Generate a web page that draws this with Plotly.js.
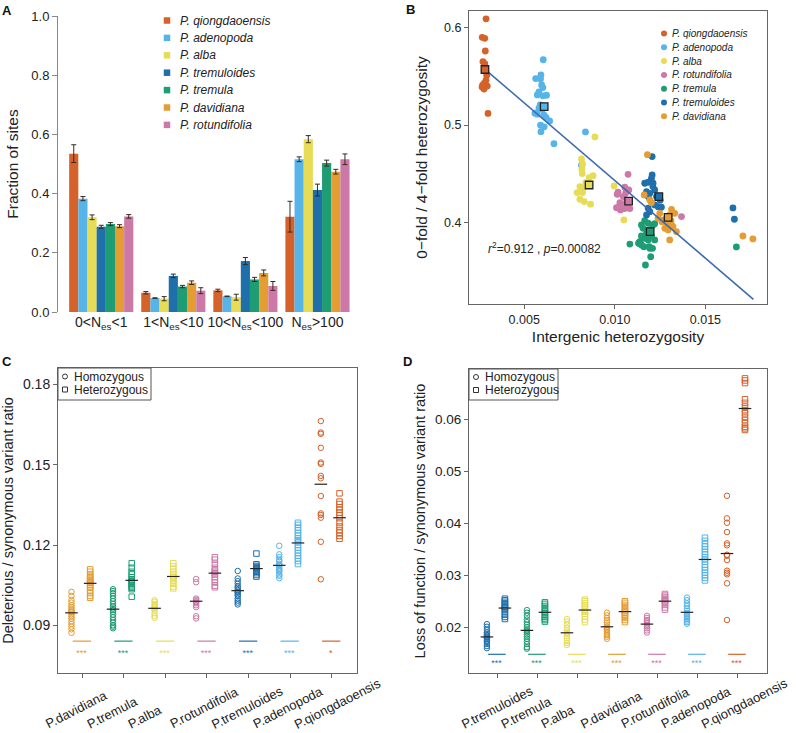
<!DOCTYPE html>
<html><head><meta charset="utf-8">
<script src="https://cdn.plot.ly/plotly-3.0.1.min.js"></script>
<style>html,body{margin:0;padding:0;background:#fff}#chart{width:796px;height:733px}</style>
</head><body><div id="chart"></div>
<script>
// ================= DATA =================
// ---- Panel A ----
const nesCategories = ['0&lt;N<sub>es</sub>&lt;1','1&lt;N<sub>es</sub>&lt;10','10&lt;N<sub>es</sub>&lt;100','N<sub>es</sub>&gt;100'];
const speciesA = ['P. qiongdaoensis','P. adenopoda','P. alba','P. tremuloides','P. tremula','P. davidiana','P. rotundifolia'];
const fracQiongdaoensis = [0.535, 0.065, 0.073, 0.322];
const fracAdenopoda     = [0.383, 0.047, 0.053, 0.516];
const fracAlba          = [0.320, 0.045, 0.050, 0.584];
const fracTremuloides   = [0.288, 0.122, 0.172, 0.412];
const fracTremula       = [0.297, 0.086, 0.110, 0.503];
const fracDavidiana     = [0.290, 0.099, 0.132, 0.474];
const fracRotundifolia  = [0.323, 0.072, 0.088, 0.516];
const errQiongdaoensis = [0.030, 0.004, 0.004, 0.052];
const errAdenopoda     = [0.007, 0.001, 0.001, 0.008];
const errAlba          = [0.008, 0.007, 0.010, 0.012];
const errTremuloides   = [0.005, 0.006, 0.012, 0.020];
const errTremula       = [0.005, 0.004, 0.007, 0.010];
const errDavidiana     = [0.005, 0.006, 0.010, 0.008];
const errRotundifolia  = [0.006, 0.010, 0.015, 0.018];

// ---- Panel B ----
const speciesB = ['P. qiongdaoensis','P. adenopoda','P. alba','P. rotundifolia','P. tremula','P. tremuloides','P. davidiana'];
const hetIntQiongdaoensis = [0.00289,0.00268,0.00282,0.00285,0.00272,0.00282,0.00293,0.00289,0.00267,0.00296,0.00278,0.00300,0.00280,0.00270];
const hetRatioQiongdaoensis = [0.609,0.590,0.589,0.576,0.565,0.563,0.551,0.546,0.539,0.540,0.537,0.512,0.543,0.541];
const hetIntAdenopoda = [0.00605,0.00592,0.00563,0.00590,0.00596,0.00603,0.00581,0.00572,0.00603,0.00623,0.00588,0.00581,0.00559,0.00572,0.00609,0.00640,0.00590,0.00610,0.00592,0.00664,0.00838,0.00816,0.00600,0.00620];
const hetRatioAdenopoda = [0.567,0.5515,0.5477,0.5474,0.5412,0.5385,0.534,0.531,0.530,0.5306,0.5207,0.5173,0.5122,0.5112,0.5102,0.5043,0.4999,0.4982,0.4933,0.481,0.493,0.4589,0.516,0.508];
const hetIntAlba = [0.00890,0.00816,0.00822,0.00818,0.00880,0.00858,0.00820,0.00807,0.00827,0.00792,0.00822,0.00807,0.00831,0.00866,0.00996,0.01050,0.00840];
const hetRatioAlba = [0.4879,0.4653,0.4599,0.4548,0.4482,0.4462,0.4503,0.437,0.436,0.4308,0.4308,0.424,0.4216,0.4189,0.4376,0.4028,0.441];
const hetIntRotundifolia = [0.01073,0.01055,0.01077,0.01018,0.01013,0.01046,0.01065,0.01028,0.01042,0.01009,0.01031,0.01055,0.01083,0.01024,0.01070,0.01368,0.01272,0.01060];
const hetRatioRotundifolia = [0.4496,0.4363,0.4335,0.4312,0.4291,0.4267,0.4233,0.4205,0.4185,0.4154,0.413,0.4144,0.4144,0.4164,0.4182,0.4062,0.4028,0.4305];
const hetIntTremula = [0.01165,0.01184,0.01147,0.01211,0.01156,0.01193,0.01175,0.01147,0.01202,0.01165,0.01184,0.01138,0.01134,0.01147,0.01193,0.01208,0.01220,0.01220,0.01198,0.01169,0.01671,0.01083,0.01131,0.01160,0.01190];
const hetRatioTremula = [0.4021,0.3994,0.3976,0.3976,0.3942,0.3925,0.3891,0.3863,0.3863,0.384,0.3823,0.3805,0.3789,0.3771,0.3737,0.3737,0.3823,0.399,0.3651,0.3566,0.3751,0.378,0.3789,0.3753,0.3753];
const hetIntTremuloides = [0.01206,0.01206,0.01202,0.01165,0.01184,0.01211,0.01175,0.01193,0.01220,0.01230,0.01184,0.01220,0.01239,0.01257,0.01184,0.01193,0.01175,0.01652,0.01660,0.01210,0.01250];
const hetRatioTremuloides = [0.4677,0.4489,0.4455,0.4404,0.4414,0.4404,0.4318,0.4301,0.4335,0.4267,0.4267,0.4182,0.4164,0.4158,0.4148,0.4113,0.4079,0.4151,0.4035,0.437,0.423];
const hetIntDavidiana = [0.01180,0.01162,0.01193,0.01202,0.01313,0.01331,0.01303,0.01248,0.01239,0.01285,0.01313,0.01321,0.01276,0.01294,0.01340,0.01303,0.01707,0.01762,0.01260,0.01310];
const hetRatioDavidiana = [0.4697,0.4284,0.4233,0.4205,0.4137,0.4096,0.4079,0.4096,0.4045,0.3994,0.3976,0.3959,0.3942,0.3925,0.3908,0.3823,0.3863,0.3833,0.401,0.402];
const meanIntB = [0.00283,0.00610,0.00858,0.01076,0.01195,0.01243,0.01294];
const meanRatioB = [0.557,0.519,0.4386,0.422,0.3908,0.4267,0.4055];
const fitIntB = [0.00287,0.01765];
const fitRatioB = [0.5566,0.3214];
const statsTextB = '<i>r</i><sup>2</sup>=0.912 , <i>p</i>=0.00082';

// ---- Panel C ----
const speciesC = ['P.davidiana','P.tremula','P.alba','P.rotundifolia','P.tremuloides','P.adenopoda','P.qiongdaoensis'];
const delHomDavidiana = [0.1025,0.1010,0.0995,0.0985,0.0975,0.0968,0.096,0.0955,0.095,0.0948,0.094,0.0932,0.0925,0.0915,0.0905,0.0895,0.0885,0.0872];
const delHetDavidiana = [0.1109,0.110,0.109,0.1082,0.1075,0.107,0.1065,0.106,0.1058,0.1052,0.1045,0.104,0.103,0.102,0.101,0.1003];
const delHomTremula = [0.1035,0.1028,0.102,0.101,0.100,0.099,0.098,0.097,0.0963,0.0957,0.095,0.094,0.093,0.092,0.091,0.090,0.0895,0.0889];
const delHetTremula = [0.1132,0.1115,0.110,0.109,0.108,0.1072,0.1065,0.1063,0.1058,0.105,0.1045,0.104,0.1035,0.1007];
const delHomAlba = [0.0994,0.0988,0.098,0.0975,0.097,0.0967,0.0962,0.0955,0.0945,0.0935,0.0928];
const delHetAlba = [0.1132,0.112,0.111,0.110,0.1092,0.1085,0.108,0.1078,0.1072,0.1065,0.1055,0.1045,0.1038];
const delHomRotundifolia = [0.1073,0.1061,0.1000,0.0995,0.0990,0.0986,0.0982,0.0975,0.0968,0.0934,0.0926];
const delHetRotundifolia = [0.1154,0.1145,0.113,0.1115,0.1105,0.110,0.1095,0.109,0.108,0.107,0.106,0.1048,0.1042];
const delHomTremuloides = [0.1103,0.1075,0.1065,0.1055,0.1045,0.104,0.1032,0.1025,0.1022,0.1015,0.101,0.100,0.0992,0.0985,0.0978];
const delHetTremuloides = [0.1168,0.1128,0.1122,0.1118,0.1115,0.1113,0.1110,0.1105,0.1100,0.1095,0.1088,0.1082];
const delHomAdenopoda = [0.1197,0.1165,0.1155,0.1145,0.114,0.113,0.1125,0.1123,0.1115,0.111,0.1105,0.110,0.109,0.1085,0.1076];
const delHetAdenopoda = [0.1283,0.1275,0.1265,0.1255,0.1245,0.1235,0.1225,0.1218,0.121,0.120,0.119,0.118,0.117,0.116,0.115,0.114,0.1129];
const delHomQiongdaoensis = [0.1663,0.1620,0.1615,0.1563,0.1508,0.1503,0.1458,0.1449,0.1383,0.1318,0.1312,0.1302,0.1212,0.1072];
const delHetQiongdaoensis = [0.1393,0.1362,0.1353,0.1341,0.1331,0.1321,0.1312,0.1300,0.1284,0.1269,0.1256,0.1246,0.1234,0.1223];
const sigC = ['***','***','***','***','***','***','*'];

// ---- Panel D ----
const speciesD = ['P.tremuloides','P.tremula','P.alba','P.davidiana','P.rotundifolia','P.adenopoda','P.qiongdaoensis'];
const lofHomTremuloides = [0.0206,0.0201,0.0195,0.019,0.0187,0.0184,0.0182,0.018,0.0178,0.0175,0.0172,0.0168,0.0164,0.016];
const lofHetTremuloides = [0.0255,0.0252,0.0249,0.0246,0.0243,0.024,0.0238,0.0236,0.0233,0.0229,0.0224,0.022,0.0216];
const lofHomTremula = [0.0233,0.0228,0.0222,0.0215,0.021,0.0205,0.020,0.0196,0.0193,0.019,0.0186,0.0182,0.0178,0.0173,0.0168,0.0162,0.0159];
const lofHetTremula = [0.0248,0.0245,0.0241,0.0237,0.0233,0.023,0.0227,0.0224,0.022,0.0217,0.0214,0.0211];
const lofHomAlba = [0.0216,0.0211,0.0205,0.0199,0.0194,0.019,0.0187,0.0183,0.0179,0.0174,0.017,0.0166];
const lofHetAlba = [0.0253,0.025,0.0246,0.0242,0.0238,0.0234,0.023,0.0226,0.0221,0.0215,0.021];
const lofHomDavidiana = [0.0228,0.0223,0.0218,0.0213,0.0209,0.0205,0.0201,0.0198,0.0195,0.0192,0.0188,0.0185,0.0182,0.0178];
const lofHetDavidiana = [0.025,0.0247,0.0243,0.0239,0.0235,0.0231,0.0228,0.0225,0.0222,0.0218,0.0214,0.021];
const lofHomRotundifolia = [0.0222,0.0218,0.0214,0.0211,0.0208,0.0205,0.0202,0.0198,0.0194,0.019];
const lofHetRotundifolia = [0.0264,0.0261,0.0258,0.0255,0.0252,0.025,0.0247,0.0243,0.0238,0.0234];
const lofHomAdenopoda = [0.0257,0.0252,0.0246,0.0241,0.0236,0.0232,0.0228,0.0225,0.0222,0.0219,0.0216,0.0213,0.021,0.0207];
const lofHetAdenopoda = [0.0372,0.0366,0.036,0.0355,0.035,0.0345,0.034,0.0335,0.0331,0.0326,0.032,0.0315,0.031,0.0305,0.030,0.0295,0.029];
const lofHomQiongdaoensis = [0.04526,0.04092,0.04008,0.03829,0.03612,0.03574,0.03394,0.03375,0.03292,0.03087,0.03048,0.03017,0.02845,0.0214];
const lofHetQiongdaoensis = [0.0678,0.0674,0.0669,0.0638,0.0631,0.0624,0.0617,0.0611,0.0604,0.0598,0.0592,0.0585,0.0582,0.0579];
const sigD = ['***','***','***','***','***','***','***'];
const zygosityLabels = ['Homozygous','Heterozygous'];

// ================= STYLE =================
const FONT = 'Liberation Sans, Arial, sans-serif';
const COL = {
  qiongdaoensis:'#D4622A', adenopoda:'#56B4E9', alba:'#E6DC55', tremuloides:'#1F6FAB',
  tremula:'#1E9C73', davidiana:'#E39D33', rotundifolia:'#CC79A7'
};
const W = 796, H = 733;
const px = v => v / W, py = v => 1 - v / H;

const traces = [];
const annotations = [];

const frameAxis = {showline:true, mirror:true, linecolor:'#666', linewidth:1, ticks:'outside', ticklen:4,
  tickcolor:'#666', showgrid:false, zeroline:false, tickfont:{size:13, color:'#222', family:FONT}};
const xaxis3 = Object.assign({}, frameAxis, {domain:[px(58), px(357)], anchor:'y3', range:[0.416,7.61],
    tickvals:[1,2,3,4,5,6,7], showticklabels:false});
const xaxis4 = Object.assign({}, frameAxis, {domain:[px(469), px(767)], anchor:'y4', range:[0.2925,7.74],
    tickvals:[1,2,3,4,5,6,7], showticklabels:false});
const toPaperX = (ax, v) => ax.domain[0] + (v - ax.range[0]) / (ax.range[1] - ax.range[0]) * (ax.domain[1] - ax.domain[0]);

// ---- A: grouped bars ----
const fracA = [fracQiongdaoensis, fracAdenopoda, fracAlba, fracTremuloides, fracTremula, fracDavidiana, fracRotundifolia];
const errA = [errQiongdaoensis, errAdenopoda, errAlba, errTremuloides, errTremula, errDavidiana, errRotundifolia];
const keysA = ['qiongdaoensis','adenopoda','alba','tremuloides','tremula','davidiana','rotundifolia'];
keysA.forEach((k, i) => {
  traces.push({type:'bar', xaxis:'x', yaxis:'y', x:[0,1,2,3], y:fracA[i], name:speciesA[i],
    marker:{color:COL[k], line:{width:0}},
    error_y:{type:'data', array:errA[i], visible:true, color:'#3a2a22', thickness:1, width:2.5},
    showlegend:false, hoverinfo:'skip'});
});

// ---- B: scatter ----
const keysB = ['qiongdaoensis','adenopoda','alba','rotundifolia','tremula','tremuloides','davidiana'];
const bx = [hetIntQiongdaoensis, hetIntAdenopoda, hetIntAlba, hetIntRotundifolia, hetIntTremula, hetIntTremuloides, hetIntDavidiana];
const by = [hetRatioQiongdaoensis, hetRatioAdenopoda, hetRatioAlba, hetRatioRotundifolia, hetRatioTremula, hetRatioTremuloides, hetRatioDavidiana];
keysB.forEach((k, i) => {
  traces.push({type:'scatter', mode:'markers', xaxis:'x2', yaxis:'y2', x:bx[i], y:by[i],
    marker:{color:COL[k], size:6.8, line:{width:0}}, showlegend:false, hoverinfo:'skip'});
});
traces.push({type:'scatter', mode:'lines', xaxis:'x2', yaxis:'y2', x:fitIntB, y:fitRatioB,
  line:{color:'#3D6AB0', width:1.6}, showlegend:false, hoverinfo:'skip'});
traces.push({type:'scatter', mode:'markers', xaxis:'x2', yaxis:'y2', x:meanIntB, y:meanRatioB,
  marker:{symbol:'square', size:7.5, color:keysB.map(k=>COL[k]), line:{color:'#222', width:1.3}},
  showlegend:false, hoverinfo:'skip'});

// ---- C & D: strip plots ----
const mean = a => a.reduce((s,v)=>s+v,0)/a.length;
const OFF_HOM = -0.26, OFF_HET = 0.19;
function stripPanel(xa, ya, axLayout, keys, names, homs, hets, sig, sigY, starY, labelShift) {
  const mx = [], my = [];
  keys.forEach((k, i) => {
    const c = i + 1;
    traces.push({type:'scatter', mode:'markers', xaxis:xa, yaxis:ya,
      x:homs[i].map(()=>c+OFF_HOM), y:homs[i],
      marker:{symbol:'circle-open', size:5.5, color:COL[k], line:{width:1}}, showlegend:false, hoverinfo:'skip'});
    traces.push({type:'scatter', mode:'markers', xaxis:xa, yaxis:ya,
      x:hets[i].map(()=>c+OFF_HET), y:hets[i],
      marker:{symbol:'square-open', size:5.5, color:COL[k], line:{width:1}}, showlegend:false, hoverinfo:'skip'});
    traces.push({type:'scatter', mode:'lines', xaxis:xa, yaxis:ya,
      x:[c-0.23, c+0.21], y:[sigY, sigY], line:{color:COL[k], width:1.2}, showlegend:false, hoverinfo:'skip'});
    traces.push({type:'scatter', mode:'text', xaxis:xa, yaxis:ya,
      x:[c-0.02], y:[starY], text:[sig[i]], textposition:'middle center',
      textfont:{size:9, color:COL[k], family:FONT}, showlegend:false, hoverinfo:'skip'});
    mx.push(c+OFF_HOM, c+OFF_HET); my.push(mean(homs[i]), mean(hets[i]));
    // rotated category label, anchored at its lower-left end
    annotations.push({text:names[i], xref:'paper', yref:'paper', x:toPaperX(axLayout, c+labelShift), y:py(733),
      xanchor:'left', yanchor:'bottom', textangle:-27, showarrow:false, borderpad:0,
      font:{size:13, color:'#222', family:FONT}});
  });
  traces.push({type:'scatter', mode:'markers', xaxis:xa, yaxis:ya, x:mx, y:my,
    marker:{symbol:'line-ew', size:9, color:'#222', line:{color:'#222', width:1.2}},
    showlegend:false, hoverinfo:'skip'});
}
stripPanel('x3','y3', xaxis3,
  ['davidiana','tremula','alba','rotundifolia','tremuloides','adenopoda','qiongdaoensis'], speciesC,
  [delHomDavidiana, delHomTremula, delHomAlba, delHomRotundifolia, delHomTremuloides, delHomAdenopoda, delHomQiongdaoensis],
  [delHetDavidiana, delHetTremula, delHetAlba, delHetRotundifolia, delHetTremuloides, delHetAdenopoda, delHetQiongdaoensis],
  sigC, 0.0841, 0.0793, -0.98);
stripPanel('x4','y4', xaxis4,
  ['tremuloides','tremula','alba','davidiana','rotundifolia','adenopoda','qiongdaoensis'], speciesD,
  [lofHomTremuloides, lofHomTremula, lofHomAlba, lofHomDavidiana, lofHomRotundifolia, lofHomAdenopoda, lofHomQiongdaoensis],
  [lofHetTremuloides, lofHetTremula, lofHetAlba, lofHetDavidiana, lofHetRotundifolia, lofHetAdenopoda, lofHetQiongdaoensis],
  sigD, 0.01482, 0.0131, -1.0);

// ---- custom legends on a pixel overlay axis ----
function legend(names, colors, mx, tx, y0, step, symbol, size, fsize, italic, lineW) {
  const ys = names.map((_,i)=>y0+i*step);
  traces.push({type:'scatter', mode:'markers', xaxis:'x5', yaxis:'y5', x:names.map(()=>mx), y:ys,
    marker:{symbol:symbol, size:size, color:colors, line:{width:lineW||0, color:colors}},
    cliponaxis:false, showlegend:false, hoverinfo:'skip'});
  names.forEach((n, i) => annotations.push({text: italic ? '<i>'+n+'</i>' : n, xref:'x5', yref:'y5',
    x:tx, y:ys[i], xanchor:'left', yanchor:'middle', showarrow:false, borderpad:0,
    font:{size:fsize, color:'#222', family:FONT}}));
}
legend(speciesA, keysA.map(k=>COL[k]), 167, 179, 20.5, 17.4, 'square', 6.5, 12, true);
legend(speciesB, keysB.map(k=>COL[k]), 664, 671, 33.5, 13.8, 'circle', 6, 10, true);
legend(zygosityLabels, ['#333','#333'], 65, 73, 376.5, 13, ['circle-open','square-open'], 5, 12, false, 1);
legend(zygosityLabels, ['#333','#333'], 476, 484, 377, 13, ['circle-open','square-open'], 5, 12, false, 1);

annotations.push(
  {text:'<b>A</b>', xref:'paper', yref:'paper', x:px(0), y:py(1), xanchor:'left', yanchor:'top', showarrow:false, font:{size:13, color:'#111'}},
  {text:'<b>B</b>', xref:'paper', yref:'paper', x:px(404), y:py(0), xanchor:'left', yanchor:'top', showarrow:false, font:{size:13, color:'#111'}},
  {text:'<b>C</b>', xref:'paper', yref:'paper', x:px(0), y:py(352), xanchor:'left', yanchor:'top', showarrow:false, font:{size:13, color:'#111'}},
  {text:'<b>D</b>', xref:'paper', yref:'paper', x:px(401), y:py(352), xanchor:'left', yanchor:'top', showarrow:false, font:{size:13, color:'#111'}},
  {text:statsTextB, xref:'x2', yref:'y2', x:0.0029, y:0.3737, xanchor:'left', yanchor:'middle', showarrow:false, font:{size:12, color:'#222'}}
);

const layout = {
  width:W, height:H, margin:{l:0,r:0,t:0,b:0}, paper_bgcolor:'#fff', plot_bgcolor:'rgba(0,0,0,0)',
  font:{family:FONT, color:'#222'}, showlegend:false, barmode:'group', bargap:0.11, bargroupgap:0,
  xaxis:{domain:[px(58), px(353.5)], anchor:'y', range:[-0.6,3.5], tickvals:[0,1,2,3], ticktext:nesCategories,
    showline:false, ticks:'', showgrid:false, zeroline:false, tickfont:{size:14, color:'#222'}},
  yaxis:{domain:[py(312), py(16)], anchor:'x', range:[0,1], tickvals:[0,0.2,0.4,0.6,0.8,1.0], tickformat:'.1f',
    showline:true, linecolor:'#888', ticks:'outside', ticklen:5, tickcolor:'#888', showgrid:false, zeroline:false,
    tickfont:{size:13, color:'#222'}, title:{text:'Fraction of sites', font:{size:15.5}, standoff:8}},
  xaxis2:Object.assign({}, frameAxis, {domain:[px(469), px(767)], anchor:'y2', range:[0.00195,0.0184],
    tickvals:[0.005,0.010,0.015], tickformat:'.3f', tickfont:{size:12.5, color:'#222'},
    title:{text:'Intergenic heterozygosity', font:{size:15.5}, standoff:5}}),
  yaxis2:Object.assign({}, frameAxis, {domain:[py(304), py(11)], anchor:'x2', range:[0.3166,0.617],
    tickvals:[0.4,0.5,0.6], tickformat:'.1f', tickfont:{size:12.5, color:'#222'},
    title:{text:'0\u2212fold / 4\u2212fold heterozygosity', font:{size:15.5}, standoff:12}}),
  xaxis3:xaxis3,
  yaxis3:Object.assign({}, frameAxis, {domain:[py(673), py(368)], anchor:'x3', range:[0.0722,0.1861],
    tickvals:[0.09,0.12,0.15,0.18], tickformat:'.2f', tickfont:{size:14, color:'#222'},
    title:{text:'Deleterious / synonymous variant ratio', font:{size:14.5}, standoff:7}}),
  xaxis4:xaxis4,
  yaxis4:Object.assign({}, frameAxis, {domain:[py(673), py(369)], anchor:'x4', range:[0.01123,0.0696],
    tickvals:[0.02,0.03,0.04,0.05,0.06], tickformat:'.2f', tickfont:{size:13.5, color:'#222'},
    title:{text:'Loss of function / synonymous variant ratio', font:{size:14.5}, standoff:5}}),
  xaxis5:{domain:[0,1], anchor:'y5', range:[0,W], visible:false, fixedrange:true},
  yaxis5:{domain:[0,1], anchor:'x5', range:[H,0], visible:false, fixedrange:true},
  shapes:[
    {type:'rect', xref:'paper', yref:'paper', x0:px(58), x1:px(151), y0:py(400), y1:py(368), line:{color:'#555', width:1}},
    {type:'rect', xref:'paper', yref:'paper', x0:px(469), x1:px(558), y0:py(400), y1:py(369), line:{color:'#555', width:1}}
  ],
  annotations:annotations
};

Plotly.newPlot('chart', traces, layout, {displayModeBar:false, staticPlot:true});
</script>
</body></html>
